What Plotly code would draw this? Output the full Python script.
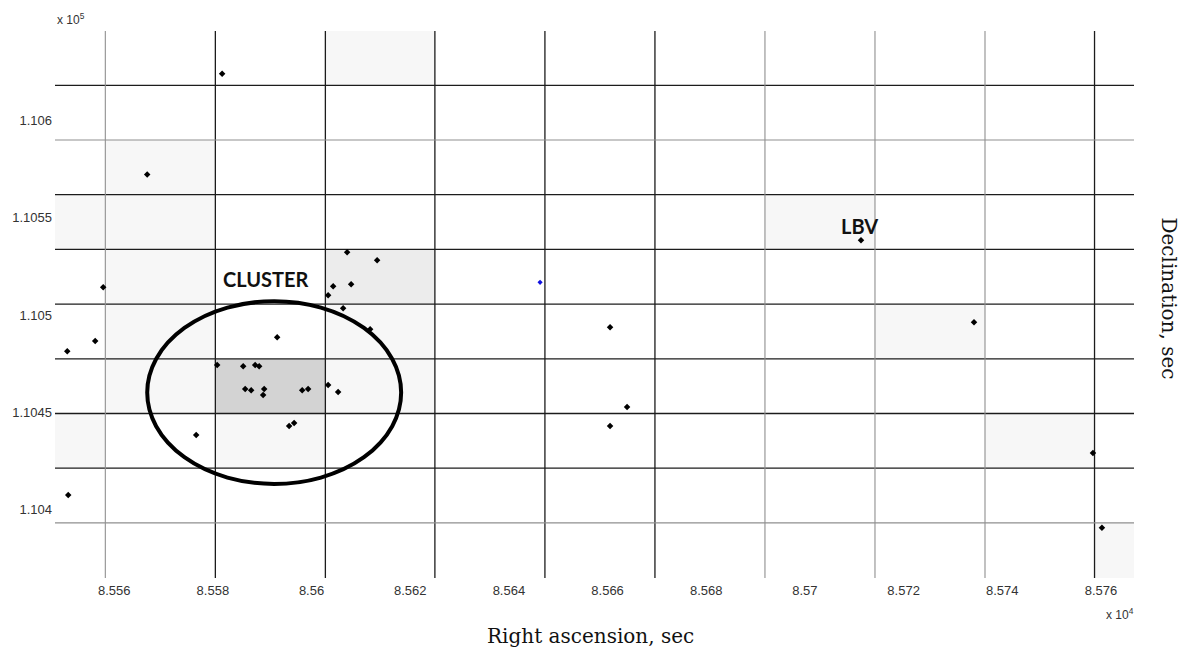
import plotly.graph_objects as go

# Star positions: right ascension (x 10^4 s) and declination (x 10^5 s)
ra_stars = [
    8.558188, 8.556669, 8.555777, 8.560721, 8.561329, 8.560438, 8.560802,
    8.560336, 8.560640, 8.555048, 8.555615, 8.555068, 8.557662, 8.559303,
    8.561187, 8.558087, 8.558614, 8.558857, 8.558938, 8.558655, 8.558776,
    8.559040, 8.559019, 8.559810, 8.559931, 8.560336, 8.560539, 8.559546,
    8.559647, 8.571137, 8.566051, 8.573427, 8.566395, 8.566051, 8.575838,
    8.576020,
]
dec_stars = [
    1.106241, 1.105723, 1.105144, 1.105323, 1.105282, 1.105149, 1.105159,
    1.105103, 1.105036, 1.104815, 1.104867, 1.104077, 1.104385, 1.104887,
    1.104928, 1.104744, 1.104738, 1.104744, 1.104738, 1.104621, 1.104615,
    1.104621, 1.104590, 1.104615, 1.104621, 1.104641, 1.104605, 1.104431,
    1.104446, 1.105385, 1.104938, 1.104964, 1.104528, 1.104431, 1.104292,
    1.103908,
]
# Single highlighted source
ra_blue = [8.564632]
dec_blue = [1.105169]

# Cell boundaries of the counting grid
x_edges = [8.55480, 8.55582, 8.55805, 8.56028, 8.56250, 8.56473, 8.56696,
           8.56919, 8.57142, 8.57365, 8.57587, 8.57667]
y_edges = [1.10365, 1.103933, 1.104214, 1.104495, 1.104776, 1.105057,
           1.105338, 1.105619, 1.105900, 1.106181, 1.10646]

# Cell density level (rows from bottom to top, columns left to right)
cell_level = [
    [0, 0, 0, 0, 0, 0, 0, 0, 0, 0, 1],
    [0, 0, 0, 0, 0, 0, 0, 0, 0, 0, 0],
    [1, 0, 1, 0, 0, 0, 0, 0, 0, 1, 0],
    [0, 1, 3, 1, 0, 0, 0, 0, 0, 0, 0],
    [0, 1, 0, 1, 0, 0, 0, 0, 1, 0, 0],
    [0, 1, 0, 2, 0, 0, 0, 0, 0, 0, 0],
    [1, 1, 0, 0, 0, 0, 0, 1, 0, 0, 0],
    [0, 1, 0, 0, 0, 0, 0, 0, 0, 0, 0],
    [0, 0, 0, 0, 0, 0, 0, 0, 0, 0, 0],
    [0, 0, 0, 1, 0, 0, 0, 0, 0, 0, 0],
]

# Cluster outline (ellipse bounding box)
cluster_ra = [8.556669, 8.561816]
cluster_dec = [1.104133, 1.105072]

x_ticks = [8.556, 8.558, 8.560, 8.562, 8.564, 8.566, 8.568, 8.570, 8.572, 8.574, 8.576]
x_tick_text = ["8.556", "8.558", "8.56", "8.562", "8.564", "8.566", "8.568",
               "8.57", "8.572", "8.574", "8.576"]
y_ticks = [1.104, 1.1045, 1.105, 1.1055, 1.106]
y_tick_text = ["1.104", "1.1045", "1.105", "1.1055", "1.106"]

x_range = [x_edges[0], x_edges[-1]]
y_range = [y_edges[0], y_edges[-1]]

fig = go.Figure()

fig.add_trace(go.Heatmap(
    x=x_edges, y=y_edges, z=cell_level,
    zmin=0, zmax=3,
    colorscale=[[0, "#ffffff"], [1 / 3, "#f7f7f7"], [2 / 3, "#ececec"], [1, "#d3d3d3"]],
    showscale=False, hoverinfo="skip",
))

# Grid lines between cells; a few are drawn lighter
light_v = {0, 6, 7, 8}
light_h = {0, 7}


def grid_xy(light):
    xs, ys = [], []
    for i, xv in enumerate(x_edges[1:-1]):
        if (i in light_v) == light:
            xs += [xv, xv, None]
            ys += [y_range[0], y_range[1], None]
    for j, yv in enumerate(y_edges[1:-1]):
        if (j in light_h) == light:
            xs += [x_range[0], x_range[1], None]
            ys += [yv, yv, None]
    return xs, ys


for light, color, width in [(False, "#1c1c1c", 1.3), (True, "#8f8f8f", 1.1)]:
    gx, gy = grid_xy(light)
    fig.add_trace(go.Scatter(x=gx, y=gy, mode="lines",
                             line=dict(color=color, width=width),
                             hoverinfo="skip", showlegend=False))

fig.add_trace(go.Scatter(
    x=ra_stars, y=dec_stars, mode="markers",
    marker=dict(symbol="diamond", size=5, color="black"),
    showlegend=False,
))
fig.add_trace(go.Scatter(
    x=ra_blue, y=dec_blue, mode="markers",
    marker=dict(symbol="diamond", size=4, color="#1010e0"),
    showlegend=False,
))

fig.add_shape(type="circle", xref="x", yref="y",
              x0=cluster_ra[0], x1=cluster_ra[1],
              y0=cluster_dec[0], y1=cluster_dec[1],
              line=dict(color="black", width=4))

fig.add_annotation(x=8.559080, y=1.105185, text="<b>CLUSTER</b>",
                   showarrow=False, font=dict(family="Lato", size=20, color="#111111"))
fig.add_annotation(x=8.571116, y=1.105456, text="<b>LBV</b>",
                   showarrow=False, font=dict(family="Lato", size=20, color="#111111"))

title_font = dict(family="DejaVu Serif", size=20, color="#111111")
fig.add_annotation(xref="paper", yref="paper", x=0.496, y=-0.106,
                   xanchor="center", yanchor="middle",
                   text="Right ascension, sec", showarrow=False, font=title_font)
fig.add_annotation(xref="paper", yref="paper", x=1.032, y=0.5119,
                   xanchor="center", yanchor="middle",
                   text="Declination, sec", textangle=90, showarrow=False, font=title_font)

exp_font = dict(family="Liberation Sans", size=12, color="#333333")
fig.add_annotation(xref="paper", yref="paper", x=0.0, y=1.022,
                   xanchor="left", yanchor="middle",
                   text="x 10<sup>5</sup>", showarrow=False, font=exp_font)
fig.add_annotation(xref="paper", yref="paper", x=0.972, y=-0.066,
                   xanchor="left", yanchor="middle",
                   text="x 10<sup>4</sup>", showarrow=False, font=exp_font)

tick_font = dict(family="Liberation Sans", size=13, color="#333333")
fig.update_xaxes(range=x_range, tickmode="array", tickvals=x_ticks, ticktext=x_tick_text,
                 showgrid=False, zeroline=False, showline=False, ticks="",
                 tickfont=tick_font, ticklabelstandoff=3)
fig.update_yaxes(range=y_range, tickmode="array", tickvals=y_ticks, ticktext=y_tick_text,
                 showgrid=False, zeroline=False, showline=False, ticks="",
                 tickfont=tick_font, ticklabelstandoff=2)

fig.update_layout(
    width=1194, height=655,
    margin=dict(l=55, r=60, t=31, b=77),
    plot_bgcolor="white", paper_bgcolor="white",
    showlegend=False,
)

fig.write_html("out.html")
